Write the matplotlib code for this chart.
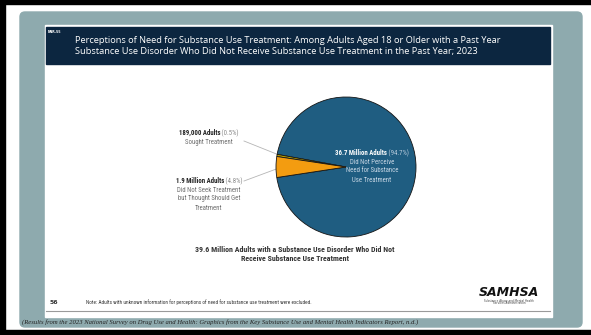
import matplotlib
matplotlib.use('Agg')
import matplotlib.pyplot as plt
from matplotlib.patches import Rectangle, FancyBboxPatch

# data
slices = [94.7, 0.5, 4.8]
counts = ['36.7 Million Adults', '189,000 Adults', '1.9 Million Adults']
descs = [['Did Not Perceive', 'Need for Substance', 'Use Treatment'],
         ['Sought Treatment'],
         ['Did Not Seek Treatment', 'but Thought Should Get', 'Treatment']]
colors = ['#1f5d81', '#b8a300', '#f39c10']

title = ('Perceptions of Need for Substance Use Treatment: Among Adults Aged 18 or Older with a Past Year\n'
         'Substance Use Disorder Who Did Not Receive Substance Use Treatment in the Past Year; 2023')
total_label = ('39.6 Million Adults with a Substance Use Disorder Who Did Not\n'
               'Receive Substance Use Treatment')
note = 'Note: Adults with unknown information for perceptions of need for substance use treatment were excluded.'
caption = ('(Results from the 2023 National Survey on Drug Use and Health: Graphics from the Key '
           'Substance Use and Mental Health Indicators Report, n.d.)')

W, H = 591, 335
NARROW = ['Roboto Condensed', 'DejaVu Sans']

fig = plt.figure(figsize=(W / 100, H / 100), dpi=100)
ax = fig.add_axes([0, 0, 1, 1])


def Y(y):
    # pixel rows from top -> data coords (y up)
    return H - y


# frame and slide background
ax.add_patch(Rectangle((0, 0), W, H, color='white', zorder=0))
ax.add_patch(Rectangle((0, Y(4)), W, 4, color='black', zorder=1))
ax.add_patch(Rectangle((0, 0), 5, H, color='black', zorder=1))
ax.add_patch(Rectangle((0, 0), W, 5, color='black', zorder=1))
ax.add_patch(FancyBboxPatch((20, Y(327)), 562, 315, boxstyle='round,pad=0,rounding_size=5',
                            color='#8eaaae', zorder=1))
ax.add_patch(Rectangle((45, Y(317)), 507, 292, color='white', zorder=2))
ax.add_patch(Rectangle((46, Y(64)), 504, 37, color='#0c2640', zorder=3))
ax.plot([46, 550], [Y(311), Y(311)], color='#9a9a9a', lw=0.8, zorder=3)

ax.text(48, Y(32), 'NNR.55', color='white', fontsize=2.3, fontweight='bold', va='center', zorder=4)
ax.text(75, Y(46), title, color='white', fontsize=6.7, family='Open Sans', va='center',
        linespacing=1.15, zorder=4)

# pie
cx, cy, r = 346, Y(167), 70
ax.pie(slices, colors=colors, startangle=188.65, counterclock=True, center=(cx, cy), radius=r,
       frame=True, wedgeprops=dict(edgecolor='#151515', linewidth=0.6, zorder=5))

# leader lines
ax.plot([244, 279], [Y(141), Y(155)], color='#b5b5b5', lw=0.6, zorder=4)
ax.plot([244, 279], [Y(181), Y(168)], color='#b5b5b5', lw=0.6, zorder=4)

fs = 4.9
label_spec = [  # (center x, first row y, bold color, pct color, desc color)
    (372, 153, 'white', '#b8cbdc', '#c9d8e6'),
    (209, 133, '#222222', '#8a8a8a', '#6e6e6e'),
    (209, 181, '#222222', '#8a8a8a', '#6e6e6e'),
]
fig.canvas.draw()
rend = fig.canvas.get_renderer()
for i, (x0, y0, c1, c2, c3) in enumerate(label_spec):
    pct = ' (%.1f%%)' % slices[i]
    t1 = ax.text(0, Y(y0), counts[i], fontsize=fs, fontweight='bold', family=NARROW,
                 color=c1, va='center', zorder=6)
    t2 = ax.text(0, Y(y0), pct, fontsize=fs, family=NARROW, color=c2, va='center', zorder=6)
    w1 = t1.get_window_extent(rend).width
    w2 = t2.get_window_extent(rend).width
    start = x0 - (w1 + w2) / 2
    t1.set_x(start)
    t2.set_x(start + w1)
    for j, line in enumerate(descs[i]):
        ax.text(x0, Y(y0 + 9 * (j + 1)), line, fontsize=fs, family=NARROW, color=c3,
                ha='center', va='center', zorder=6)

ax.text(295, Y(254), total_label, fontsize=5.65, fontweight='bold', family=NARROW, color='#333333',
        ha='center', va='center', linespacing=1.25, zorder=6)

# footer
ax.text(50, Y(302), '56', fontsize=4.4, fontweight='bold', color='#333333', va='center', zorder=6)
ax.text(86, Y(302), note, fontsize=3.75, family=NARROW, color='#333333', va='center', zorder=6)
ax.text(509, Y(292), 'SAMHSA', fontsize=9, fontweight='bold', style='italic', color='#111111',
        ha='center', va='center', zorder=6)
ax.text(509, Y(300.5), 'Substance Abuse and Mental Health', fontsize=2.0, color='#444444',
        ha='center', va='center', zorder=6)
ax.text(509, Y(303.5), 'Services Administration', fontsize=2.0, color='#444444',
        ha='center', va='center', zorder=6)
ax.text(22, Y(322), caption, fontsize=4.8, style='italic', family='Liberation Serif',
        color='#222222', va='center', zorder=6)

ax.set_xlim(0, W)
ax.set_ylim(0, H)
ax.set_aspect('auto')
ax.axis('off')

fig.savefig('out.png', dpi=100)
